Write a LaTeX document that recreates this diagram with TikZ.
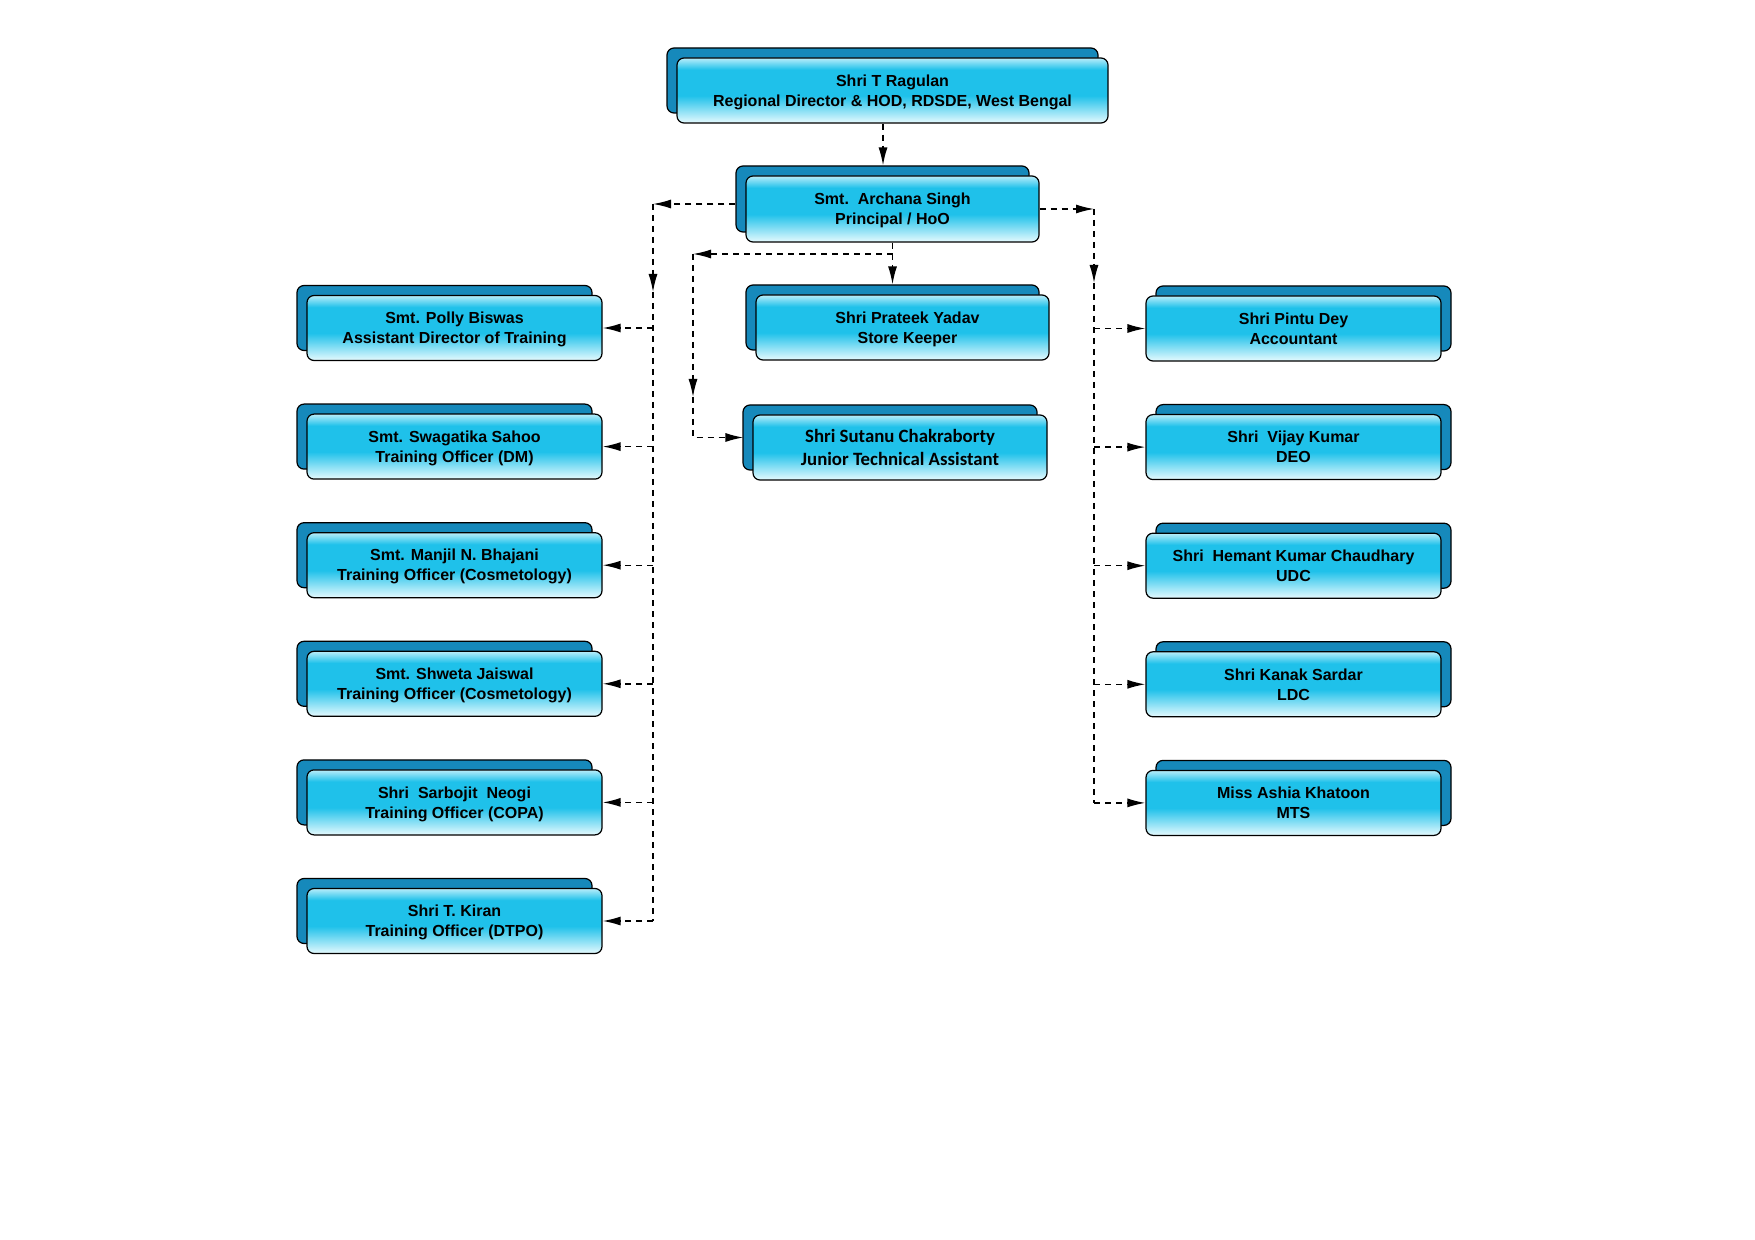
\documentclass[tikz,border=0pt]{standalone}
\usepackage{fontspec}
\setmainfont{Liberation Sans}
\newfontfamily\calibrifont{Carlito}
\usetikzlibrary{arrows.meta,positioning,shadows}
\definecolor{boxcyan}{HTML}{1FC1EA}
\definecolor{boxpale}{HTML}{E6FAFE}
\definecolor{boxtop}{HTML}{B8EDFA}
\definecolor{boxback}{HTML}{1689BB}
\pgfdeclareverticalshading{boxshade}{100bp}{color(0bp)=(boxpale); color(25bp)=(boxpale); color(46bp)=(boxcyan); color(66bp)=(boxcyan); color(75bp)=(boxtop); color(100bp)=(boxtop)}

\begin{document}
\begin{tikzpicture}[
    x=0.5pt, y=-0.5pt,
    font=\bfseries\fontsize{8}{10}\selectfont,
    % Stili dei box
    staff/.style={rectangle, rounded corners=3.5pt, draw=black, line width=0.6pt,
      shading=boxshade, shade, minimum width=147.5pt, minimum height=32.5pt,
      align=center, inner sep=0pt, text depth=-0.5pt},
    leftstaff/.style={staff, copy shadow={shadow xshift=-5pt, shadow yshift=5pt,
      fill=boxback, draw=black, line width=0.6pt}},
    rightstaff/.style={staff, copy shadow={shadow xshift=5pt, shadow yshift=5pt,
      fill=boxback, draw=black, line width=0.6pt}},
    conn/.style={dash pattern=on 3pt off 2.5pt, line width=0.7pt},
    arrow/.style={conn, -{Latex[length=9pt,width=4.5pt]}}
  ]
  \useasboundingbox (0,0) rectangle (1755,1240);

  % Vertice
  \node (ragulan) [leftstaff, minimum width=215.5pt] at (892.5,90.5)
    {Shri T Ragulan\\Regional Director \& HOD, RDSDE, West Bengal};
  \node (archana) [leftstaff, minimum width=146.5pt, minimum height=33pt] at (892.5,209)
    {Smt.\ \ Archana Singh\\Principal / HoO};

  % Colonna sinistra
  \node (polly) [leftstaff] at (454.5,328) {Smt. Polly Biswas\\Assistant Director of Training};
  \node (swagatika) [leftstaff, below=26.2pt of polly] {Smt. Swagatika Sahoo\\Training Officer (DM)};
  \node (manjil) [leftstaff, below=26.2pt of swagatika] {Smt. Manjil N. Bhajani\\Training Officer (Cosmetology)};
  \node (shweta) [leftstaff, below=26.2pt of manjil] {Smt. Shweta Jaiswal\\Training Officer (Cosmetology)};
  \node (sarbojit) [leftstaff, below=26.2pt of shweta] {Shri\ \ Sarbojit\ \ Neogi\\Training Officer (COPA)};
  \node (kiran) [leftstaff, below=26.2pt of sarbojit] {Shri T. Kiran\\Training Officer (DTPO)};

  % Colonna centrale
  \node (prateek) [leftstaff, minimum width=146.5pt] at (902.5,327.5)
    {\hspace*{5pt}Shri Prateek Yadav\\\hspace*{5pt}Store Keeper};
  \node (sutanu) [leftstaff, minimum width=147pt, font=\calibrifont\bfseries\fontsize{9.4}{11.8}\selectfont]
    at (900,447.5) {Shri Sutanu Chakraborty\\Junior Technical Assistant};

  % Colonna destra
  \node (pintu) [rightstaff] at (1293.5,328.5) {Shri Pintu Dey\\Accountant};
  \node (vijay) [rightstaff, below=26.2pt of pintu] {Shri\ \ Vijay Kumar\\DEO};
  \node (hemant) [rightstaff, below=26.2pt of vijay] {Shri\ \ Hemant Kumar Chaudhary\\UDC};
  \node (kanak) [rightstaff, below=26.2pt of hemant] {Shri Kanak Sardar\\LDC};
  \node (ashia) [rightstaff, below=26.2pt of kanak] {Miss Ashia Khatoon\\MTS};

  % Punti di snodo
  \coordinate (lbus) at (653,204);
  \coordinate (ltip) at (653,292);
  \coordinate (rbus) at (1094,209);
  \coordinate (rtip) at (1094,283);
  \coordinate (mjoin) at (892.5,254);
  \coordinate (mleft) at (693,254);
  \coordinate (mtip) at (693,397);

  % Collegamenti
  \draw [arrow] ([xshift=-4.75pt]ragulan.south) -- ([xshift=-4.75pt,yshift=5pt]archana.north);

  % Ramo sinistro
  \draw [arrow] ([xshift=-5pt,yshift=2.5pt]archana.west) -- (lbus);
  \draw [arrow] (lbus) -- (ltip);
  \draw [conn] (ltip) -- (lbus |- kiran.east);
  \foreach \who in {polly,swagatika,manjil,shweta,sarbojit,kiran}
    \draw [arrow] (lbus |- \who.east) -- (\who.east);

  % Ramo destro
  \draw [arrow] (archana.east) -- (rbus);
  \draw [arrow] (rbus) -- (rtip);
  \draw [conn] (rtip) -- (rbus |- ashia.west);
  \foreach \who in {pintu,vijay,hemant,kanak,ashia}
    \draw [arrow] (rbus |- \who.west) -- (\who.west);

  % Ramo centrale
  \draw [conn] (archana.south) -- (mjoin);
  \draw [arrow] (mjoin) -- ([yshift=5pt]prateek.north -| mjoin);
  \draw [arrow] (mjoin) -- (mleft);
  \draw [arrow] (mleft) -- (mtip);
  \draw [arrow] (mtip) |- ([xshift=-4.5pt,yshift=5pt]sutanu.west);

\end{tikzpicture}
\end{document}
